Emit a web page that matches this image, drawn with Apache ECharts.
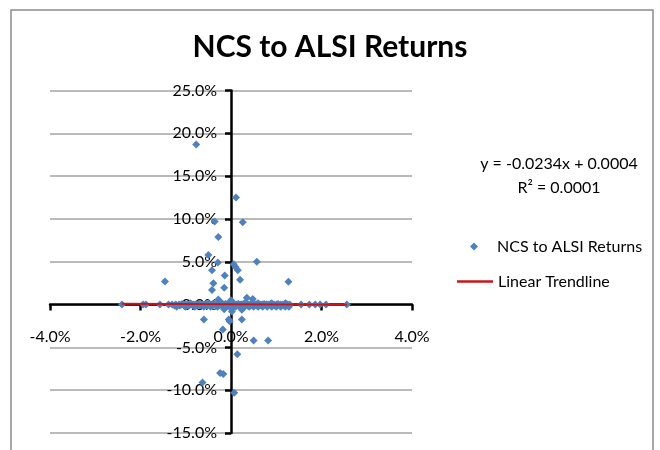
<!DOCTYPE html>
<html><head><meta charset="utf-8">
<script src="https://cdn.jsdelivr.net/npm/echarts@6.0.0/dist/echarts.min.js"></script>
<style>html,body{margin:0;padding:0;background:#fff}#c{width:660px;height:450px}</style>
</head><body><div id="c"></div>
<script>
// ---- data (percent units: x = ALSI return, y = NCS return) ----
const chartTitle = 'NCS to ALSI Returns';
const scatterName = 'NCS to ALSI Returns';
const trendName = 'Linear Trendline';
const equationLine = 'y = -0.0234x + 0.0004';
const rSquaredLine = 'R\u00b2 = 0.0001';
const trendSlope = -0.0234;      // per unit
const trendIntercept = 0.0004;   // as fraction
const xAxisRange = [-4, 4];
const xAxisStep = 2;
const yAxisRange = [-15, 25];
const yAxisStep = 5;

// scattered points away from the zero band
const outlierPoints = [
  [-0.77, 18.7], [0.11, 12.5], [0.26, 9.6], [-0.36, 9.7], [-0.28, 7.9],
  [-0.50, 5.8], [0.57, 5.0], [-0.29, 4.9], [-0.42, 4.0], [0.06, 4.7],
  [0.10, 4.4], [0.15, 4.0], [-0.14, 3.4], [0.20, 2.9], [-1.46, 2.7],
  [-0.39, 2.5], [-0.42, 1.7], [-0.15, 1.95], [1.27, 2.65], [-0.28, 0.6],
  [0.35, 0.8], [0.48, 0.65], [-0.60, -1.75], [-0.05, -1.75], [-0.03, -1.95],
  [0.24, -1.75], [-0.18, -2.9], [0.50, -4.2], [0.82, -4.2], [0.14, -5.8],
  [-0.24, -8.0], [-0.17, -8.1], [-0.63, -9.1], [0.07, -10.3],
  [0.00, 0.5], [0.02, -0.8], [-0.02, 0.3], [0.01, -0.5], [0.24, -0.6], [-0.15, -0.55]
];

// dense band of days with (near) zero NCS return
const bandPoints = [
  [-2.41, 0], [-1.94, 0], [-1.88, 0], [-1.57, 0], [-1.38, 0], [-1.30, 0], [-1.22, 0],
  [-1.15, 0], [-1.10, 0], [-1.05, 0], [-1.00, 0], [-0.95, 0], [-0.90, 0], [-0.86, 0],
  [-0.82, 0], [-0.78, 0], [-0.74, 0], [-0.70, 0], [-0.66, 0], [-0.62, 0], [-0.58, 0],
  [-0.55, 0], [-0.52, 0], [-0.48, 0], [-0.45, 0], [-0.42, 0], [-0.38, 0], [-0.35, 0],
  [-0.32, 0], [-0.28, 0], [-0.25, 0], [-0.22, 0], [-0.19, 0], [-0.16, 0], [-0.13, 0],
  [-0.10, 0], [-0.07, 0], [-0.04, 0], [-0.02, 0], [0.01, 0], [0.03, 0], [0.05, 0],
  [0.08, 0], [0.11, 0], [0.14, 0], [0.17, 0], [0.20, 0], [0.23, 0], [0.26, 0],
  [0.29, 0], [0.32, 0], [0.35, 0], [0.38, 0], [0.42, 0], [0.45, 0], [0.48, 0],
  [0.52, 0], [0.55, 0], [0.58, 0], [0.62, 0], [0.66, 0], [0.70, 0], [0.74, 0],
  [0.78, 0], [0.82, 0], [0.86, 0], [0.90, 0], [0.95, 0], [1.00, 0], [1.05, 0],
  [1.10, 0], [1.15, 0], [1.20, 0], [1.25, 0], [1.30, 0], [1.55, 0], [1.73, 0],
  [1.86, 0], [1.97, 0], [2.10, 0], [2.56, 0],
  [-1.20, -0.25], [-1.00, -0.25], [-0.80, -0.25], [-0.60, -0.25], [-0.45, -0.25],
  [-0.30, -0.25], [-0.15, -0.25], [0.00, -0.25], [0.10, -0.25], [0.20, -0.25],
  [0.30, -0.25], [0.40, -0.25], [0.50, -0.25], [0.60, -0.25], [0.70, -0.25],
  [0.80, -0.25], [0.90, -0.25], [1.00, -0.25], [1.10, -0.25], [1.20, -0.25], [1.28, -0.25],
  [-1.25, -0.12], [-1.13, -0.12], [-1.03, -0.12], [-0.93, -0.12], [-0.84, -0.12],
  [-0.76, -0.12], [-0.68, -0.12], [-0.60, -0.12], [-0.53, -0.12], [-0.47, -0.12],
  [-0.40, -0.12], [-0.34, -0.12], [-0.27, -0.12], [-0.21, -0.12], [-0.14, -0.12],
  [-0.08, -0.12], [-0.01, -0.12], [0.06, -0.12], [0.12, -0.12], [0.18, -0.12],
  [0.25, -0.12], [0.31, -0.12], [0.37, -0.12], [0.44, -0.12], [0.50, -0.12],
  [0.57, -0.12], [0.64, -0.12], [0.72, -0.12], [0.80, -0.12], [0.88, -0.12],
  [0.97, -0.12], [1.07, -0.12], [1.17, -0.12], [1.27, -0.12],
  [-1.08, 0.08], [-0.88, 0.08], [-0.70, 0.08], [-0.55, 0.08], [-0.40, 0.08],
  [-0.26, 0.08], [-0.12, 0.08], [0.02, 0.08], [0.16, 0.08], [0.30, 0.08],
  [0.44, 0.08], [0.58, 0.08], [0.73, 0.08], [0.88, 0.08], [1.04, 0.08], [1.22, 0.08],
  [-0.90, 0.15], [-0.50, 0.15], [-0.20, 0.15], [0.05, 0.15], [0.30, 0.15],
  [0.60, 0.15], [0.90, 0.15], [1.20, 0.15]
];

// ---- build ----
const allPoints = bandPoints.concat(outlierPoints);
const xs = allPoints.map(p => p[0]);
const xLo = Math.min(...xs), xHi = Math.max(...xs);
const fit = x => trendSlope * x + trendIntercept * 100;
const trendData = [[xLo, fit(xLo)], [xHi, fit(xHi)]];

const FONT = 'Lato';
const pct = v => v.toFixed(1) + '%';
const chart = echarts.init(document.getElementById('c'), null, {renderer: 'canvas'});
chart.setOption({
  animation: false,
  backgroundColor: '#fff',
  textStyle: {fontFamily: FONT},
  title: {
    text: chartTitle, left: 'center', top: 32, padding: 0,
    textStyle: {fontFamily: FONT, fontSize: 30, fontWeight: 'bold', color: '#000'}
  },
  grid: {left: 50, right: 248, top: 90.5, bottom: 17, containLabel: false, outerBoundsMode: 'none'},
  xAxis: {
    type: 'value', min: xAxisRange[0], max: xAxisRange[1], interval: xAxisStep,
    position: 'bottom', offset: 0,
    axisLine: {onZero: false, lineStyle: {color: '#000', width: 2.5}},
    axisTick: {show: true, length: 6, lineStyle: {color: '#000', width: 2.5}},
    axisLabel: {formatter: pct, fontFamily: FONT, fontSize: 16, color: '#000', margin: 24,
      showMinLabel: true, showMaxLabel: true, hideOverlap: false},
    splitLine: {show: false}
  },
  yAxis: {
    type: 'value', min: yAxisRange[0], max: yAxisRange[1], interval: yAxisStep,
    position: 'left', offset: 0,
    axisLine: {onZero: false, lineStyle: {color: '#000', width: 2.5}},
    axisTick: {show: true, length: 6, lineStyle: {color: '#000', width: 2.5}},
    axisLabel: {formatter: pct, fontFamily: FONT, fontSize: 16, color: '#000', margin: 14,
      showMinLabel: true, showMaxLabel: true, hideOverlap: false},
    splitLine: {show: true, lineStyle: {color: '#a3a3a3', width: 1.5}}
  },
  legend: [
    {data: [scatterName], left: 470, top: 238.5, padding: 0, orient: 'vertical',
      icon: 'diamond', itemWidth: 8, itemHeight: 8,
      textStyle: {fontFamily: FONT, fontSize: 16, color: '#000', padding: [0, 0, 0, 14]}},
    {data: [trendName], left: 457, top: 273.5, padding: 0, orient: 'vertical',
      icon: 'rect', itemWidth: 36, itemHeight: 2.5,
      itemStyle: {color: '#c8161d'},
      textStyle: {fontFamily: FONT, fontSize: 16, color: '#000'}}
  ],
  graphic: [
    {type: 'rect', shape: {x: 11, y: 10, width: 642, height: 470}, silent: true, z: -10,
      style: {fill: 'none', stroke: '#8c8c8c', lineWidth: 1.5}},
    {type: 'text', x: 559, y: 164, style: {text: equationLine, fontFamily: FONT, fontSize: 16,
      fill: '#000', align: 'center', verticalAlign: 'middle'}},
    {type: 'text', x: 559, y: 188, style: {text: rSquaredLine, fontFamily: FONT, fontSize: 16,
      fill: '#000', align: 'center', verticalAlign: 'middle'}}
  ],
  series: [
    {name: scatterName, type: 'scatter', symbol: 'diamond', symbolSize: 8,
      itemStyle: {color: '#4f81bd', opacity: 1}, data: allPoints, z: 2},
    {name: trendName, type: 'line', data: trendData, symbol: 'none', showSymbol: false,
      lineStyle: {color: '#c8161d', width: 2}, itemStyle: {color: '#c8161d'}, z: 3}
  ]
});

// move both axes (line, ticks, labels) onto the zero crossing of the other axis
const origin = chart.convertToPixel({gridIndex: 0}, [0, 0]);
const corner = chart.convertToPixel({gridIndex: 0}, [xAxisRange[0], yAxisRange[0]]);
chart.setOption({
  xAxis: {offset: -(corner[1] - origin[1])},
  yAxis: {offset: -(origin[0] - corner[0])}
});
</script></body></html>
